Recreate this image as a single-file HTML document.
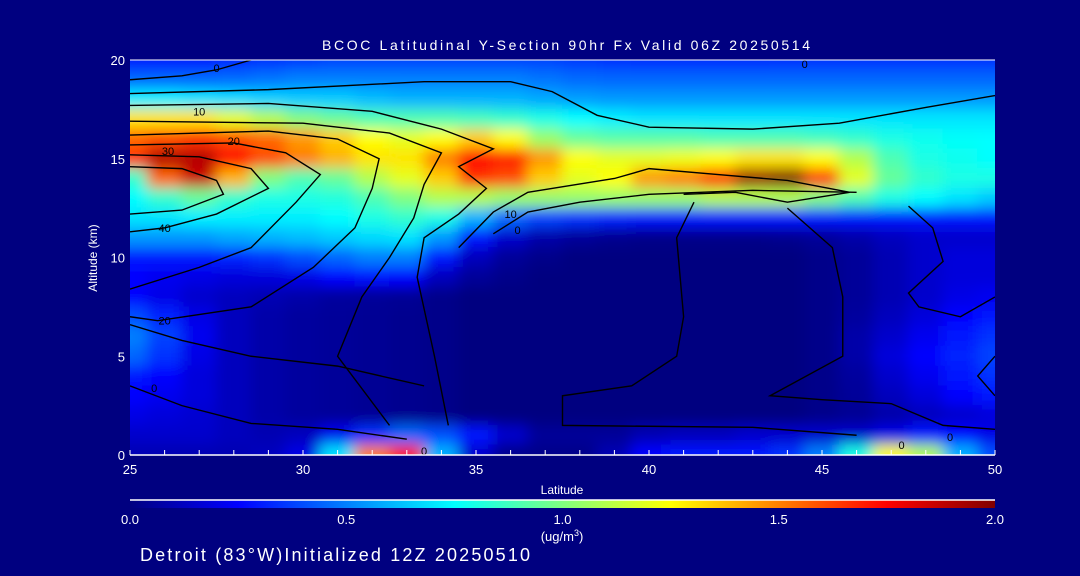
<!DOCTYPE html>
<html><head><meta charset="utf-8"><style>
html,body{margin:0;padding:0;background:#000080;width:1080px;height:576px;overflow:hidden}
svg{display:block}
text{font-family:"Liberation Sans",sans-serif;fill:#fff}
</style></head><body>
<svg id="chart" width="1080" height="576">
<defs>
<clipPath id="plotclip"><rect x="130" y="60" width="865" height="395"/></clipPath>
<filter id="smooth" filterUnits="userSpaceOnUse" x="60" y="0" width="1000" height="530"><feGaussianBlur stdDeviation="7"/></filter>
<linearGradient id="jet" x1="0" x2="1" y1="0" y2="0">
<stop offset="0" stop-color="#000080"/><stop offset="0.125" stop-color="#0000ff"/>
<stop offset="0.375" stop-color="#00ffff"/><stop offset="0.625" stop-color="#ffff00"/>
<stop offset="0.875" stop-color="#ff0000"/><stop offset="1" stop-color="#800000"/>
</linearGradient>
</defs>
<text x="322" y="50" font-size="14" textLength="488" lengthAdjust="spacing">BCOC Latitudinal Y-Section 90hr  Fx Valid 06Z 20250514</text>
<g id="heat" clip-path="url(#plotclip)"><g id="heatcells" filter="url(#smooth)"></g></g>
<g id="contours" clip-path="url(#plotclip)"></g>
<g id="axes"></g>
<rect x="130" y="500" width="865" height="8" fill="url(#jet)"/>
<line x1="130" y1="500" x2="995" y2="500" stroke="#fff" stroke-width="1.5"/>
<g id="cbticks"></g>
<text x="562" y="541" text-anchor="middle" font-size="13">(ug/m<tspan dy="-5" font-size="9">3</tspan><tspan dy="5">)</tspan></text>
<text x="140" y="561" font-size="18" textLength="390" lengthAdjust="spacing">Detroit (83°W)Initialized 12Z 20250510</text>
</svg>
<script>
const lats=[25,26,27,28,29,30,31,32,33,34,35,36,37,38,39,40,41,42,43,44,45,46,47,48,49,50];
const alts=[20,19,18,17,16,15,14,13,12,11,10,9,8,7,6,5,4,3,2,1,0];
const conc=[
[0.30,0.30,0.30,0.32,0.34,0.36,0.38,0.38,0.38,0.38,0.38,0.38,0.38,0.36,0.34,0.33,0.33,0.33,0.33,0.34,0.35,0.35,0.35,0.35,0.35,0.35],
[0.45,0.45,0.45,0.46,0.48,0.50,0.50,0.50,0.50,0.50,0.50,0.50,0.48,0.46,0.45,0.45,0.45,0.45,0.45,0.45,0.45,0.45,0.45,0.45,0.45,0.45],
[0.72,0.72,0.70,0.68,0.66,0.65,0.65,0.62,0.60,0.60,0.60,0.60,0.58,0.56,0.55,0.55,0.55,0.55,0.55,0.55,0.55,0.55,0.55,0.55,0.55,0.55],
[1.30,1.30,1.30,1.20,1.10,1.00,0.95,0.90,0.90,0.90,0.88,0.85,0.80,0.75,0.72,0.70,0.70,0.70,0.70,0.70,0.70,0.70,0.70,0.70,0.70,0.70],
[1.55,1.60,1.65,1.60,1.55,1.45,1.35,1.25,1.20,1.25,1.35,1.25,1.05,0.95,0.92,0.92,0.92,0.90,0.90,0.90,0.88,0.85,0.80,0.78,0.76,0.75],
[1.65,1.90,1.90,1.75,1.60,1.50,1.40,1.30,1.30,1.50,1.75,1.70,1.45,1.25,1.20,1.20,1.22,1.25,1.30,1.30,1.25,1.10,0.90,0.80,0.78,0.75],
[0.85,1.55,1.85,1.40,1.00,0.90,0.95,1.10,1.20,1.35,1.65,1.60,1.35,1.20,1.25,1.45,1.50,1.65,1.95,2.00,1.65,1.20,0.95,0.85,0.80,0.80],
[0.75,0.85,0.95,0.85,0.80,0.80,0.82,0.90,1.00,1.10,1.10,1.05,1.05,1.05,1.05,1.05,1.05,1.10,1.10,1.10,1.00,0.90,0.80,0.75,0.70,0.65],
[0.70,0.70,0.72,0.72,0.72,0.72,0.75,0.80,0.85,0.80,0.60,0.45,0.38,0.35,0.32,0.30,0.30,0.30,0.30,0.30,0.30,0.30,0.30,0.30,0.30,0.30],
[0.55,0.55,0.55,0.58,0.60,0.62,0.65,0.68,0.70,0.55,0.30,0.15,0.08,0.05,0.03,0.02,0.02,0.02,0.02,0.03,0.05,0.08,0.12,0.15,0.15,0.15],
[0.30,0.30,0.30,0.32,0.35,0.40,0.45,0.50,0.50,0.30,0.12,0.05,0.02,0.00,0.00,0.00,0.00,0.00,0.00,0.00,0.02,0.05,0.10,0.15,0.18,0.18],
[0.25,0.22,0.20,0.18,0.18,0.20,0.25,0.28,0.25,0.12,0.05,0.02,0.00,0.00,0.00,0.00,0.00,0.00,0.00,0.00,0.02,0.05,0.10,0.15,0.18,0.18],
[0.25,0.20,0.15,0.12,0.10,0.08,0.06,0.05,0.04,0.02,0.00,0.00,0.00,0.00,0.00,0.00,0.00,0.00,0.00,0.00,0.02,0.05,0.10,0.15,0.20,0.22],
[0.40,0.32,0.20,0.12,0.08,0.06,0.05,0.04,0.03,0.02,0.00,0.00,0.00,0.00,0.00,0.00,0.00,0.00,0.00,0.00,0.02,0.06,0.12,0.18,0.25,0.30],
[0.50,0.38,0.22,0.12,0.08,0.06,0.05,0.04,0.03,0.02,0.00,0.00,0.00,0.00,0.00,0.00,0.00,0.00,0.00,0.00,0.02,0.08,0.15,0.22,0.30,0.35],
[0.45,0.35,0.20,0.12,0.08,0.06,0.05,0.04,0.03,0.02,0.00,0.00,0.00,0.00,0.00,0.00,0.00,0.00,0.00,0.00,0.02,0.08,0.18,0.25,0.32,0.38],
[0.30,0.25,0.18,0.12,0.08,0.06,0.05,0.04,0.03,0.02,0.00,0.00,0.00,0.00,0.00,0.00,0.00,0.00,0.00,0.00,0.02,0.06,0.15,0.22,0.30,0.35],
[0.25,0.22,0.18,0.12,0.08,0.06,0.05,0.04,0.03,0.02,0.00,0.00,0.00,0.00,0.00,0.00,0.00,0.00,0.00,0.00,0.02,0.05,0.12,0.18,0.25,0.30],
[0.20,0.18,0.16,0.12,0.08,0.06,0.05,0.04,0.03,0.02,0.00,0.00,0.00,0.00,0.00,0.00,0.00,0.00,0.00,0.00,0.02,0.04,0.08,0.12,0.15,0.18],
[0.15,0.15,0.15,0.12,0.10,0.12,0.22,0.35,0.45,0.40,0.30,0.15,0.05,0.05,0.05,0.10,0.12,0.12,0.15,0.15,0.15,0.15,0.20,0.30,0.25,0.20],
[0.10,0.10,0.10,0.10,0.12,0.20,0.70,1.50,1.70,0.60,0.15,0.02,0.02,0.02,0.10,0.25,0.30,0.30,0.30,0.35,0.50,0.80,1.25,1.10,0.60,0.40]];
const xTicks=[25,30,35,40,45,50];
const yTicks=[0,5,10,15,20];
const cbTicks=[0.0,0.5,1.0,1.5,2.0];
const contourLines=[
[[25,19.0],[26.5,19.2],[27.5,19.5],[28.5,20]],
[[25,18.3],[29,18.5],[33.5,18.9],[36,18.9],[37.2,18.4],[38.5,17.2],[40,16.6],[43,16.5],[45.5,16.8],[48,17.6],[50,18.2]],
[[25,17.7],[29,17.8],[32,17.4],[34,16.5],[35.5,15.5],[34.5,14.6],[35.3,13.5],[34.5,12.2],[33.5,11],[33.3,9],[33.8,5],[34.2,1.5]],
[[25,16.9],[30,16.8],[32.5,16.3],[34,15.3],[33.5,13.7],[33.2,12],[32.5,10],[31.7,8],[31,5],[32.5,1.5]],
[[25,16.2],[29,16.4],[31,16],[32.2,15],[32,13.5],[31.5,11.5],[30.3,9.5],[28.5,7.5],[25.8,6.8],[25,7]],
[[25,15.7],[28,15.8],[29.5,15.3],[30.5,14.2],[29.8,12.8],[28.5,10.5],[27,9.5],[25,8.4]],
[[25,15.2],[27,15.1],[28.5,14.5],[29,13.5],[27.5,12.2],[26,11.5],[25,11.3]],
[[25,14.6],[26.5,14.5],[27.5,13.9],[27.7,13.2],[26.5,12.4],[25,12.2]],
[[25,6.6],[26.5,5.8],[28.5,5],[31,4.5],[33.5,3.5]],
[[25,3.5],[26.5,2.5],[28.5,1.6],[31,1.3],[33,0.8]],
[[35.5,11.2],[36.5,12.3],[38,12.8],[40,13.2],[43,13.4],[46,13.3]],
[[34.5,10.5],[35.5,12.3],[36.5,13.3],[39,14],[40,14.5],[42,14.2],[44,13.9],[45.8,13.3],[44,12.8],[42.5,13.3],[41,13.2]],
[[41.3,12.8],[40.8,11],[41,7],[40.8,5],[39.5,3.5],[37.5,3],[37.5,1.5],[43,1.4],[46,1.0]],
[[44,12.5],[45.3,10.5],[45.6,8],[45.6,5],[43.5,3],[45,2.8],[47,2.6],[48.5,1.5],[50,1.3]],
[[47.5,12.6],[48.2,11.5],[48.5,9.8],[47.5,8.2],[47.8,7.5],[49,7],[50,8]],
[[50,5],[49.5,4],[50,3]]];
const contourLabels=[[27.5,19.6,"0"],[27,17.4,"10"],[28,15.9,"20"],[26.1,15.4,"30"],[26,11.5,"40"],[26,6.8,"20"],[25.7,3.4,"0"],[36,12.2,"10"],[36.2,11.4,"0"],[47.3,0.5,"0"],[33.5,0.2,"0"],[48.7,0.9,"0"],[44.5,19.8,"0"]];

const X0=130,X1=995,Y0=455,Y1=60;
const xs=v=>X0+(v-25)/25*(X1-X0);
const ys=v=>Y0-v/20*(Y0-Y1);
function jet(t){t=Math.max(0,Math.min(1,t/2));
 const st=[[0,0,0,128],[0.125,0,0,255],[0.375,0,255,255],[0.625,255,255,0],[0.875,255,0,0],[1,128,0,0]];
 for(let i=0;i<st.length-1;i++){const a=st[i],b=st[i+1];if(t<=b[0]){const f=(t-a[0])/(b[0]-a[0]);
 return `rgb(${Math.round(a[1]+f*(b[1]-a[1]))},${Math.round(a[2]+f*(b[2]-a[2]))},${Math.round(a[3]+f*(b[3]-a[3]))})`;}}
 return "rgb(128,0,0)";}
const NS="http://www.w3.org/2000/svg";
function mk(tag,attrs,parent){const e=document.createElementNS(NS,tag);for(const k in attrs)e.setAttribute(k,attrs[k]);parent.appendChild(e);return e;}
const heat=document.getElementById('heatcells');
const cw=xs(26)-xs(25), ch=ys(0)-ys(1), pad=25;
alts.forEach((a,i)=>lats.forEach((l,j)=>{
 let x=xs(l)-cw/2-0.5, y=ys(a)-ch/2-0.5, w=cw+1, h=ch+1;
 if(j===0){x-=pad;w+=pad;} if(j===lats.length-1){w+=pad;}
 if(i===0){y-=pad;h+=pad;} if(i===alts.length-1){h+=pad;}
 const r=mk('rect',{x:x,y:y,width:w,height:h,fill:jet(conc[i][j])},heat);
 
 
}));
const cg=document.getElementById('contours');
contourLines.forEach(line=>{
 const p=mk('polyline',{points:line.map(q=>xs(q[0])+','+ys(q[1])).join(' '),fill:'none',stroke:'#000','stroke-width':1.4},cg);
 
 
});
contourLabels.forEach(c=>{
 const t=mk('text',{x:xs(c[0]),y:ys(c[1])+4,'text-anchor':'middle','font-size':11,style:'fill:#000'},cg);
 t.textContent=c[2];
 
 
});
const ax=document.getElementById('axes');
const plotTopLine=mk('line',{x1:X0,y1:Y1,x2:X1,y2:Y1,stroke:'#fff','stroke-width':1},ax);


const xa=mk('line',{x1:X0,y1:Y0,x2:X1,y2:Y0,stroke:'#fff','stroke-width':1.5},ax);


for(let l=25;l<=50;l++){const tk=mk('line',{x1:xs(l),y1:Y0,x2:xs(l),y2:Y0-5,stroke:'#fff'},ax);
 
 }
xTicks.forEach(v=>{const t=mk('text',{x:xs(v),y:Y0+19,'text-anchor':'middle','font-size':13},ax);t.textContent=v;
 
 });
yTicks.forEach(v=>{const t=mk('text',{x:X0-5,y:ys(v)+5,'text-anchor':'end','font-size':13},ax);t.textContent=v;
 
 });
const xt=mk('text',{x:562,y:494,'text-anchor':'middle','font-size':12},ax);xt.textContent='Latitude';


const yt=mk('text',{x:97,y:258,'text-anchor':'middle','font-size':12,transform:'rotate(-90 97 258)'},ax);yt.textContent='Altitude (km)';


const cb=document.getElementById('cbticks');
cbTicks.forEach(v=>{const t=mk('text',{x:X0+v/2*(X1-X0),y:524,'text-anchor':'middle','font-size':13},cb);t.textContent=v.toFixed(1);
 
 });
</script>
</body></html>
